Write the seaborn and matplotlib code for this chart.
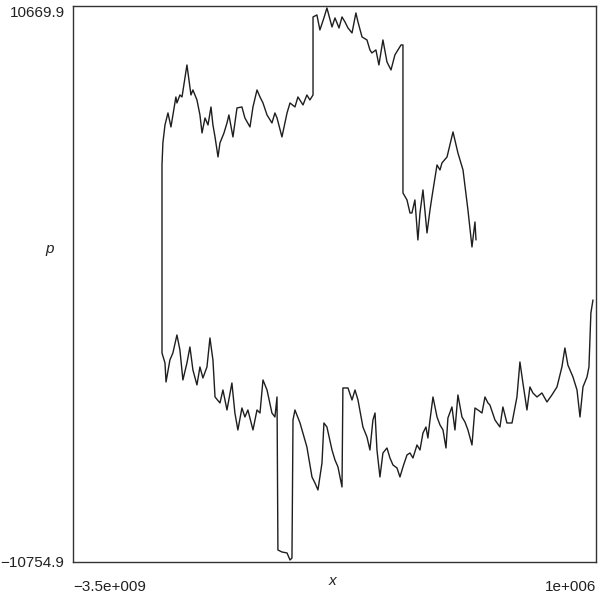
import numpy as np
import pandas as pd
import matplotlib
matplotlib.use("Agg")
import matplotlib.pyplot as plt
import seaborn as sns

sns.set_style("white")
plt.rcParams['font.family'] = ['Liberation Sans', 'DejaVu Sans']

# upper branch, read left to right (x in billions)
upper_x = [-2.904, -2.904, -2.898, -2.884, -2.864, -2.844, -2.831, -2.811, -2.804, -2.784,
           -2.770, -2.737, -2.710, -2.697, -2.670, -2.650, -2.636, -2.616, -2.596, -2.576,
           -2.563, -2.549, -2.529, -2.516, -2.489, -2.469, -2.456, -2.429, -2.402, -2.369,
           -2.349, -2.315, -2.295, -2.268, -2.248, -2.228, -2.201, -2.168, -2.148, -2.134,
           -2.101, -2.067, -2.047, -2.014, -1.994, -1.960, -1.934, -1.914, -1.893, -1.893,
           -1.867, -1.847, -1.820, -1.800, -1.766, -1.746, -1.719, -1.699, -1.679, -1.659,
           -1.632, -1.606, -1.592, -1.565, -1.532, -1.512, -1.499, -1.472, -1.452, -1.425,
           -1.398, -1.371, -1.345, -1.304, -1.291, -1.291, -1.264, -1.244, -1.231, -1.211,
           -1.191, -1.177, -1.157, -1.130, -1.110, -1.097, -1.063, -1.043, -1.030, -0.996,
           -0.956, -0.923, -0.889, -0.856, -0.829, -0.809, -0.802]
upper_y = [3965, 4543, 5391, 6084, 6547, 6007, 6470, 7163, 6932, 7240,
           7163, 8396, 7240, 7433, 7048, 6470, 5776, 6354, 6084, 6778,
           6084, 5622, 4851, 5391, 5776, 6162, 6470, 5622, 6740, 6778,
           6354, 6007, 6778, 7433, 7163, 6932, 6470, 6162, 6547, 6354,
           5622, 6547, 6932, 6778, 7163, 6855, 7240, 7048, 7240, 10246,
           10323, 9745, 10208, 10593, 9861, 10208, 9822, 10246, 10053, 9822,
           9630, 10400, 10053, 9475, 9360, 8975, 8859, 8975, 8396, 9360,
           8512, 8204, 8782, 9167, 9167, 3464, 3194, 2693, 2693, 3194,
           1653, 2693, 3580, 1923, 2809, 3310, 4543, 4350, 4620, 4851,
           5815, 5005, 4350, 2809, 1383, 2346, 1653]

# lower branch, read left to right (x in billions)
lower_x = [-2.904, -2.884, -2.877, -2.851, -2.831, -2.804, -2.784, -2.764, -2.737, -2.717,
           -2.697, -2.670, -2.650, -2.630, -2.603, -2.583, -2.563, -2.549, -2.516, -2.496,
           -2.469, -2.436, -2.416, -2.396, -2.369, -2.349, -2.329, -2.295, -2.268, -2.248,
           -2.228, -2.201, -2.168, -2.148, -2.134, -2.128, -2.101, -2.067, -2.047, -2.034,
           -2.027, -2.014, -1.980, -1.947, -1.934, -1.900, -1.880, -1.860, -1.833, -1.820,
           -1.800, -1.766, -1.746, -1.726, -1.699, -1.693, -1.659, -1.632, -1.612, -1.592,
           -1.559, -1.532, -1.512, -1.492, -1.478, -1.465, -1.445, -1.425, -1.398, -1.378,
           -1.358, -1.331, -1.311, -1.291, -1.264, -1.244, -1.224, -1.197, -1.177, -1.157,
           -1.137, -1.124, -1.110, -1.090, -1.063, -1.043, -1.023, -1.003, -0.990, -0.963,
           -0.943, -0.923, -0.896, -0.876, -0.856, -0.829, -0.809, -0.789, -0.762, -0.742,
           -0.722, -0.709, -0.675, -0.642, -0.622, -0.595, -0.561, -0.528, -0.508, -0.488,
           -0.461, -0.441, -0.421, -0.394, -0.361, -0.327, -0.294, -0.260, -0.227, -0.207,
           -0.187, -0.153, -0.126, -0.106, -0.086, -0.059, -0.046, -0.033, -0.019]
lower_y = [-2701, -3087, -3819, -2971, -2701, -2008, -2586, -3742, -3087, -2470,
           -3356, -3934, -3241, -3665, -3241, -2124, -2971, -4397, -4628, -4127,
           -4898, -3857, -5014, -5668, -4821, -5168, -4898, -5668, -4898, -5014,
           -3742, -4127, -5014, -5168, -4397, -10293, -10370, -10408, -10678, -10601,
           -5283, -4898, -5399, -6054, -6324, -7479, -7711, -7980, -6940, -5399,
           -5553, -6439, -6825, -7093, -7865, -4050, -4050, -4513, -4127, -4513,
           -5553, -5938, -6439, -5283, -5014, -6439, -7479, -6555, -6362, -6748,
           -7016, -7133, -7479, -7093, -6631, -6555, -6748, -6246, -6439, -5784,
           -5553, -5977, -5283, -4397, -5168, -5476, -5668, -6362, -5206, -4782,
           -5668, -4320, -5168, -5360, -5668, -6246, -4821, -4898, -5014, -4397,
           -4628, -4705, -5283, -5553, -4782, -5399, -5399, -4397, -3048, -3857,
           -4898, -4011, -4243, -4397, -4243, -4589, -4320, -4011, -3241, -2509,
           -3164, -3626, -4127, -5168, -4011, -3626, -3241, -1160, -659]

x_lim = (-3.5e9, 1e6)
p_lim = (-10754.9, 10669.9)
x_labels = ["\u22123.5e+009", "1e+006"]
p_labels = ["\u221210754.9", "10669.9"]

# one path: upper branch walked backwards, then down the jump and along the lower branch
df = pd.DataFrame({
    "x": np.r_[upper_x[::-1], lower_x] * 1e9,
    "p": np.r_[upper_y[::-1], lower_y],
})

fig = plt.figure(figsize=(5.98, 5.95), dpi=100)
ax = fig.add_axes([0.122, 0.0555, 0.8746, 0.9345])
sns.lineplot(data=df, x="x", y="p", sort=False, estimator=None,
             color="#1e1e1e", linewidth=1.0, ax=ax)

ax.set_xlim(*x_lim)
ax.set_ylim(*p_lim)
ax.set_xticks(list(x_lim))
ax.set_xticklabels(x_labels, fontsize=11)
ax.set_yticks(list(p_lim))
ax.set_yticklabels(p_labels, fontsize=11)
ax.tick_params(length=0, colors="#222222")
ax.tick_params(axis="x", pad=13)
ax.tick_params(axis="y", pad=6)
xl = ax.get_xticklabels()
xl[0].set_ha("left")
xl[1].set_ha("right")
yl = ax.get_yticklabels()
yl[1].set_va("top")

ax.set_xlabel("x", fontsize=11, style="italic", color="#222222")
ax.set_ylabel("p", fontsize=11, style="italic", rotation=0, color="#222222")
ax.xaxis.set_label_coords(0.497, -0.022)
ax.yaxis.set_label_coords(-0.044, 0.55)

for s in ax.spines.values():
    s.set_visible(True)
    s.set_color("#333333")
    s.set_linewidth(1.0)

fig.savefig("out.png", dpi=100, facecolor="white")
